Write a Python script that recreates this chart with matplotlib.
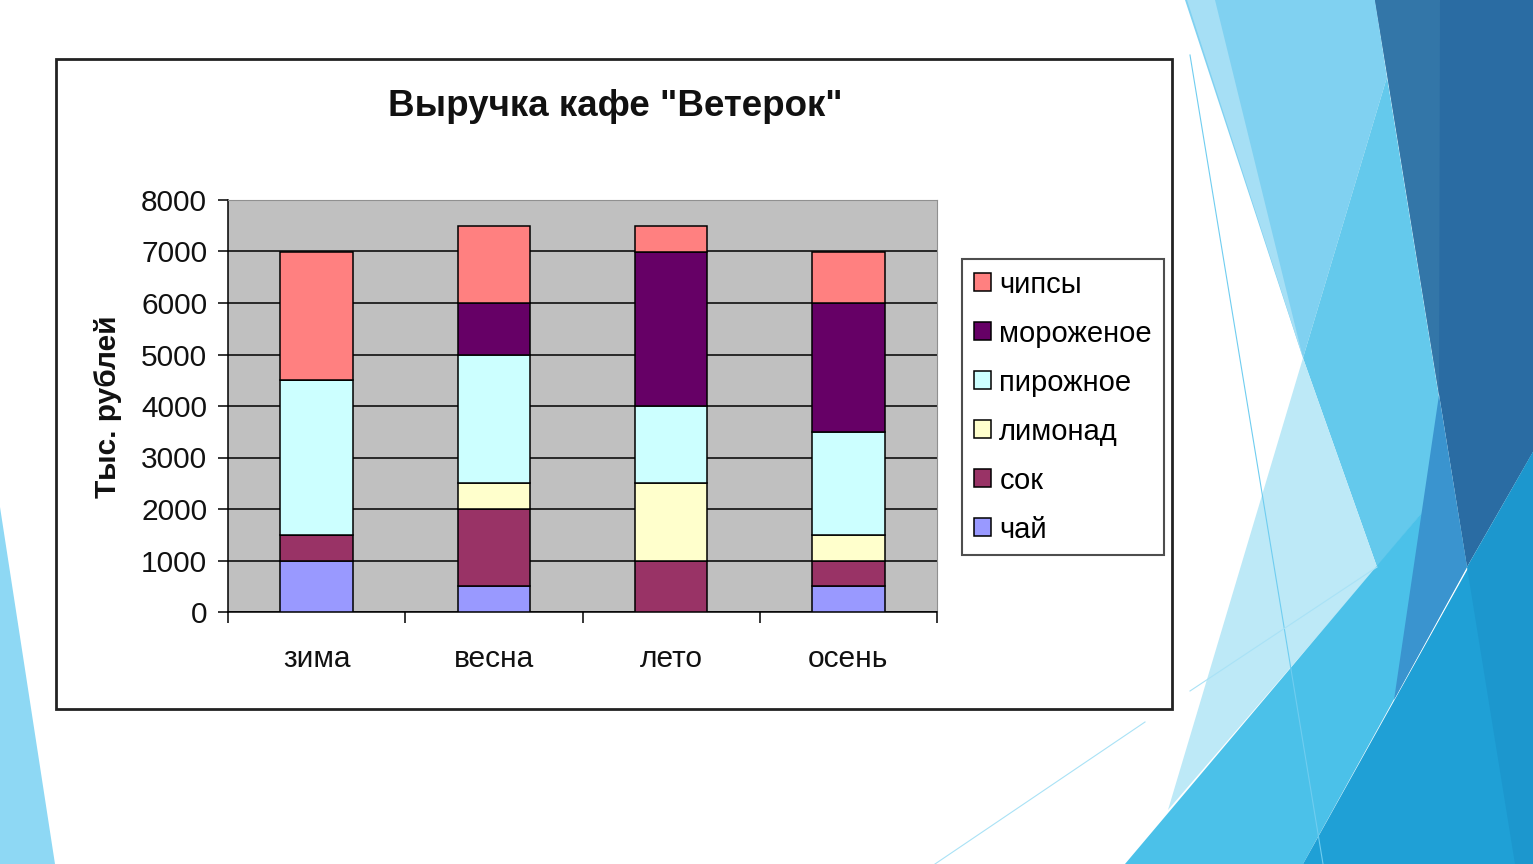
import matplotlib
matplotlib.use('Agg')
import matplotlib.pyplot as plt
import numpy as np
from matplotlib.patches import Polygon, Rectangle, Patch

W, H = 1533, 864

# data (тыс. рублей)
seasons = ['зима', 'весна', 'лето', 'осень']
tea = [1000, 500, 0, 500]
juice = [500, 1500, 1000, 500]
lemonade = [0, 500, 1500, 500]
cake = [3000, 2500, 1500, 2000]
icecream = [0, 1000, 3000, 2500]
chips = [2500, 1500, 500, 1000]

series_names = ['чай', 'сок', 'лимонад', 'пирожное', 'мороженое', 'чипсы']
series_vals = [tea, juice, lemonade, cake, icecream, chips]
series_colors = ['#9999FF', '#993366', '#FFFFCC', '#CCFFFF', '#660066', '#FF8080']

plt.rcParams['font.family'] = ['Liberation Sans', 'DejaVu Sans']

fig = plt.figure(figsize=(W / 100, H / 100), dpi=100)
fig.patch.set_facecolor('white')

# slide decoration, pixel coords
bg = fig.add_axes([0, 0, 1, 1], zorder=-1)
bg.set_xlim(0, W)
bg.set_ylim(H, 0)
bg.axis('off')

shapes = [
    ([(0, 507), (55, 864), (0, 864)], '#8ED8F4'),
    ([(1185, 0), (1375, 0), (1387, 77), (1303, 358)], '#80D1F1'),
    ([(1187, 0), (1215, 0), (1303, 358)], '#A6DFF5'),
    ([(1387, 77), (1452, 477), (1377, 567), (1303, 358)], '#64C9EC'),
    ([(1303, 358), (1377, 567), (1168, 810)], '#BDE9F7'),
    ([(1125, 864), (1452, 477), (1467, 567), (1303, 864)], '#4BC1E9'),
    ([(1375, 0), (1533, 0), (1533, 452), (1467, 567)], '#2A6CA3'),
    ([(1375, 0), (1440, 0), (1439, 395)], '#3376A8'),
    ([(1439, 395), (1467, 567), (1394, 700)], '#3A94CF'),
    ([(1303, 864), (1533, 452), (1533, 864)], '#1FA0D6'),
    ([(1467, 567), (1533, 452), (1533, 864), (1515, 864)], '#1C97CE'),
]
for pts, c in shapes:
    bg.add_patch(Polygon(pts, closed=True, facecolor=c, edgecolor='none'))
bg.plot([1190, 1323], [55, 864], color='#6FCDF0', lw=0.8)
bg.plot([1190, 1377], [691, 567], color='#A9E2F6', lw=0.8)
bg.plot([935, 1145], [864, 722], color='#A9E2F6', lw=0.8)

# chart frame
bg.add_patch(Rectangle((56, 59), 1116, 650, facecolor='white',
                       edgecolor='#222222', lw=2))

fig.text(615 / W, 1 - 107 / H, 'Выручка кафе "Ветерок"', ha='center',
         va='center', fontsize=26.5, fontweight='bold', color='#111111')
fig.text(108 / W, 1 - 407 / H, 'Тыс. рублей', rotation=90, ha='center',
         va='center', fontsize=21.5, fontweight='bold', color='#111111')

ax = fig.add_axes([228 / W, 1 - 612 / H, 709 / W, 412 / H])
ax.set_facecolor('#C0C0C0')
x = np.arange(len(seasons))
bottom = np.zeros(len(seasons))
handles = []
for name, vals, col in zip(series_names, series_vals, series_colors):
    ax.bar(x, vals, 0.41, bottom=bottom, color=col, edgecolor='black',
           lw=1.1, zorder=3)
    bottom += np.array(vals)
    handles.append(Patch(facecolor=col, edgecolor='black', lw=1.1, label=name))

ax.set_xlim(-0.5, 3.5)
ax.set_ylim(0, 8000)
ax.set_yticks(np.arange(0, 8001, 1000))
ax.yaxis.grid(True, color='black', lw=1.1, zorder=1)
ax.set_axisbelow(True)
ax.tick_params(axis='y', labelsize=21.5, length=7, width=1.1, pad=8,
               labelcolor='#111111')
ax.set_xticks(x)
ax.set_xticklabels(seasons)
ax.set_xticks(np.arange(-0.5, 3.6, 1), minor=True)
ax.tick_params(axis='x', which='major', length=0, labelsize=21.5, pad=24,
               labelcolor='#111111')
ax.tick_params(axis='x', which='minor', length=8, width=1.1)
for s in ['top', 'right']:
    ax.spines[s].set_color('#909090')
for s in ['left', 'bottom']:
    ax.spines[s].set_lw(1.1)

leg = fig.legend(handles[::-1], series_names[::-1], loc='upper left',
                 bbox_to_anchor=(962 / W, 1 - 259 / H), fontsize=21,
                 frameon=True, fancybox=False, edgecolor='#222222',
                 handlelength=0.58, handleheight=0.58, handletextpad=0.3,
                 labelspacing=0.72, borderpad=0.4, borderaxespad=0)
leg.get_frame().set_linewidth(1.5)

fig.savefig('out.png', dpi=100)
